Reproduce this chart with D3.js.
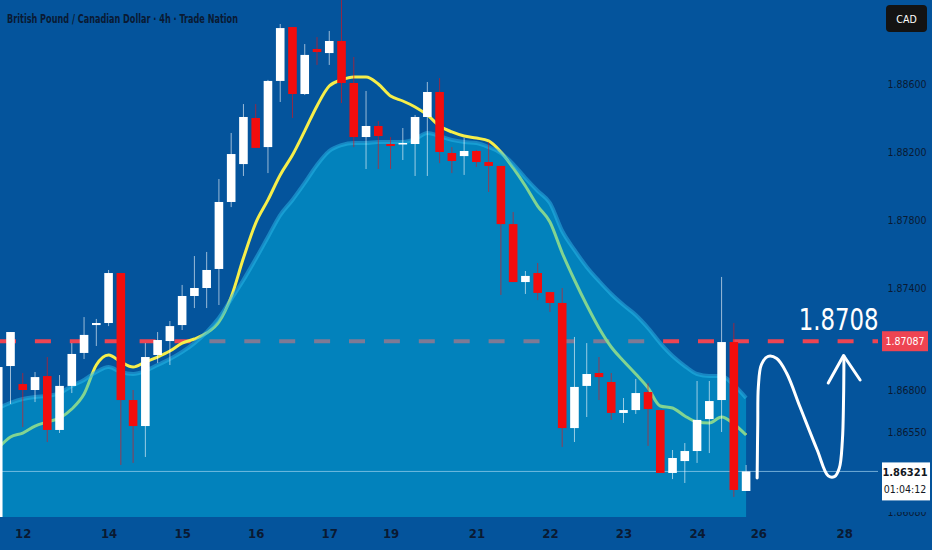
<!DOCTYPE html>
<html>
<head>
<meta charset="utf-8">
<script src="https://cdn.jsdelivr.net/npm/d3@7"></script>
<style>
  html, body { margin: 0; padding: 0; background: #04549c; }
  svg { display: block; }
</style>
</head>
<body>
<svg id="chart" width="932" height="550"></svg>
<script>
// GBP/CAD 4h candles, bar index 0..61
const opens = [1.86000,1.86941,1.86835,1.86800,1.86882,1.86565,1.86824,1.87018,1.87182,1.87194,
  1.87488,1.86741,1.86588,1.87006,1.87088,1.87182,1.87353,1.87400,1.87512,1.87906,
  1.88129,1.88400,1.88229,1.88618,1.88935,1.88541,1.88806,1.88782,1.88853,1.88606,
  1.88288,1.88353,1.88247,1.88247,1.88247,1.88406,1.88553,1.88194,1.88176,1.88206,
  1.88141,1.88118,1.87776,1.87435,1.87488,1.87376,1.87312,1.86576,1.86824,1.86900,
  1.86847,1.86665,1.86682,1.86788,1.86682,1.86312,1.86382,1.86441,1.86629,1.86741,
  1.87082,1.86206];
const highs = [1.86950,1.87141,1.86900,1.86906,1.86994,1.86888,1.87076,1.87229,1.87218,1.87506,
  1.87488,1.86800,1.87076,1.87141,1.87206,1.87418,1.87588,1.87612,1.88041,1.88312,
  1.88482,1.88482,1.88624,1.88953,1.88935,1.88835,1.88876,1.88912,1.89094,1.88759,
  1.88559,1.88382,1.88288,1.88341,1.88418,1.88612,1.88635,1.88229,1.88282,1.88212,
  1.88259,1.88118,1.87847,1.87500,1.87547,1.87376,1.87400,1.87112,1.87076,1.86994,
  1.86900,1.86753,1.86865,1.86841,1.86682,1.86447,1.86488,1.86853,1.86853,1.87465,
  1.87194,1.86359];
const lows = [1.85970,1.86718,1.86582,1.86729,1.86494,1.86547,1.86782,1.86982,1.87059,1.87176,
  1.86359,1.86371,1.86406,1.86959,1.86947,1.87153,1.87282,1.87282,1.87300,1.87876,
  1.88059,1.88224,1.88076,1.88494,1.88400,1.88535,1.88712,1.88712,1.88488,1.88229,
  1.88100,1.88100,1.88100,1.88153,1.88059,1.88059,1.88135,1.88076,1.88065,1.88112,
  1.87965,1.87359,1.87435,1.87365,1.87329,1.87259,1.86465,1.86494,1.86641,1.86741,
  1.86624,1.86606,1.86659,1.86471,1.86312,1.86276,1.86253,1.86371,1.86429,1.86553,
  1.86171,1.86206];
const closes = [1.86935,1.87141,1.86800,1.86876,1.86565,1.86824,1.87012,1.87124,1.87194,1.87488,
  1.86741,1.86588,1.86994,1.87094,1.87176,1.87353,1.87400,1.87506,1.87906,1.88188,
  1.88406,1.88224,1.88618,1.88929,1.88541,1.88771,1.88788,1.88853,1.88606,1.88288,
  1.88353,1.88294,1.88235,1.88253,1.88406,1.88553,1.88200,1.88147,1.88206,1.88141,
  1.88118,1.87776,1.87435,1.87471,1.87371,1.87312,1.86576,1.86818,1.86894,1.86876,
  1.86665,1.86682,1.86782,1.86688,1.86312,1.86400,1.86441,1.86624,1.86735,1.87082,
  1.86212,1.86321];

// fast moving average (yellow line)
const maFast = [1.86459,1.86524,1.86547,1.86588,1.86612,1.86635,1.86688,1.86776,1.86947,1.87006,
  1.86965,1.86935,1.86965,1.86994,1.87029,1.87076,1.87100,1.87135,1.87200,1.87347,
  1.87576,1.87782,1.87918,1.88065,1.88182,1.88324,1.88471,1.88588,1.88624,1.88641,
  1.88641,1.88600,1.88529,1.88500,1.88465,1.88418,1.88353,1.88318,1.88294,1.88282,
  1.88265,1.88200,1.88106,1.88000,1.87882,1.87788,1.87606,1.87447,1.87300,1.87165,
  1.87053,1.86971,1.86894,1.86812,1.86706,1.86694,1.86647,1.86612,1.86606,1.86641,
  1.86600,1.86535];
// slow average (filled area)
const maSlow = [1.86694,1.86724,1.86747,1.86759,1.86765,1.86782,1.86824,1.86859,1.86906,1.86935,
  1.86906,1.86894,1.86912,1.86947,1.86982,1.87024,1.87076,1.87141,1.87224,1.87335,
  1.87447,1.87571,1.87700,1.87829,1.87918,1.88018,1.88124,1.88206,1.88241,1.88253,
  1.88253,1.88259,1.88259,1.88259,1.88276,1.88312,1.88294,1.88271,1.88259,1.88253,
  1.88229,1.88194,1.88129,1.88047,1.87971,1.87900,1.87735,1.87624,1.87524,1.87441,
  1.87365,1.87300,1.87241,1.87165,1.87076,1.87000,1.86941,1.86894,1.86882,1.86882,
  1.86829,1.86753];

const dayTicks = [2, 9, 15, 21, 27, 32, 39, 45, 51, 57, 62, 69];
const dayLabels = ["12", "14", "15", "16", "17", "19", "21", "22", "23", "24", "26", "28"];
const priceTicks = [1.886, 1.882, 1.878, 1.874, 1.868, 1.8655, 1.8608];

const levelPrice = 1.87087;
const levelNote = "1.8708";
const lastPrice = 1.86321;
const countdown = "01:04:12";
const title = "British Pound / Canadian Dollar · 4h · Trade Nation";

// hand-drawn projection path, [bar index, price]
const scribble = [[61.9,1.86282],[61.95,1.86600],[62.0,1.86820],[62.25,1.86950],[62.8,1.86998],
  [63.5,1.86985],[64.3,1.86900],[65.4,1.86700],[66.8,1.86447],[67.7,1.86295],[68.2,1.86290],
  [68.6,1.86340],[68.85,1.86500],[68.95,1.86750],[68.98,1.87000]];
const arrowHead = [[67.7,1.86841],[68.95,1.87003],[70.3,1.86859]];

const W = 932, H = 550;
const plotRight = 878, plotBottom = 517;
const ink = "#0a1a33";
const labelFont = "'Liberation Sans Narrow', 'DejaVu Sans Condensed', 'Roboto Condensed', Roboto, sans-serif";

const svg = d3.select("#chart");
const x = d3.scaleLinear().domain([0, 61]).range([-1.76, 746.1]);
const y = d3.scaleLinear().domain([1.874, 1.886]).range([288, 84]);
const bw = 8.6;

svg.append("rect").attr("width", W).attr("height", H).attr("fill", "#04549c");

const defs = svg.append("defs");
defs.append("clipPath").attr("id", "plot")
  .append("rect").attr("width", plotRight).attr("height", plotBottom);
// the lowest price label is half hidden under the time scale edge
defs.append("clipPath").attr("id", "lowcut")
  .append("rect").attr("x", -30).attr("y", -1).attr("width", 60).attr("height", 20);

const g = svg.append("g").attr("clip-path", "url(#plot)");

// level line (drawn under the area so it tints inside it)
g.append("line")
  .attr("x1", 0).attr("x2", plotRight + 4)
  .attr("y1", y(levelPrice)).attr("y2", y(levelPrice))
  .attr("stroke", "#ee4452").attr("stroke-width", 4)
  .attr("stroke-dasharray", "16 18.9");

const idx = d3.range(closes.length);

g.append("path")
  .datum(idx)
  .attr("fill", "none")
  .attr("stroke", "#f6ee4a")
  .attr("stroke-width", 3)
  .attr("d", d3.line().x(i => x(i)).y(i => y(maFast[i])).curve(d3.curveMonotoneX));

g.append("path")
  .datum(idx)
  .attr("fill", "#00b6e2")
  .attr("fill-opacity", 0.47)
  .attr("d", d3.area().x(i => x(i)).y0(plotBottom).y1(i => y(maSlow[i])).curve(d3.curveMonotoneX));

g.append("path")
  .datum(idx)
  .attr("fill", "none")
  .attr("stroke", "#2cbaea")
  .attr("stroke-opacity", 0.5)
  .attr("stroke-width", 4)
  .attr("d", d3.line().x(i => x(i)).y(i => y(maSlow[i])).curve(d3.curveMonotoneX));

// last price line
g.append("line")
  .attr("x1", 0).attr("x2", plotRight + 6)
  .attr("y1", y(lastPrice)).attr("y2", y(lastPrice))
  .attr("stroke", "#9fd2f0").attr("stroke-opacity", 0.7).attr("stroke-width", 1);

// candles
const color = i => closes[i] >= opens[i] ? "#ffffff" : "#f20d0d";

g.append("g").selectAll("line")
  .data(idx)
  .join("line")
    .attr("x1", i => x(i)).attr("x2", i => x(i))
    .attr("y1", i => y(highs[i])).attr("y2", i => y(lows[i]))
    .attr("stroke", color)
    .attr("stroke-opacity", 0.6)
    .attr("stroke-width", 1);

g.append("g").selectAll("rect")
  .data(idx)
  .join("rect")
    .attr("x", i => x(i) - bw / 2)
    .attr("width", bw)
    .attr("y", i => y(Math.max(opens[i], closes[i])))
    .attr("height", i => Math.max(1.5, Math.abs(y(opens[i]) - y(closes[i]))))
    .attr("fill", color);

// annotation
svg.append("path")
  .datum(scribble)
  .attr("fill", "none").attr("stroke", "#ffffff").attr("stroke-width", 3)
  .attr("stroke-linecap", "round").attr("stroke-linejoin", "round")
  .attr("d", d3.line().x(d => x(d[0])).y(d => y(d[1])).curve(d3.curveCatmullRom));

svg.append("path")
  .datum(arrowHead)
  .attr("fill", "none").attr("stroke", "#ffffff").attr("stroke-width", 3)
  .attr("stroke-linecap", "round").attr("stroke-linejoin", "round")
  .attr("d", d3.line().x(d => x(d[0])).y(d => y(d[1])));

svg.append("text")
  .attr("x", x(68.55)).attr("y", y(1.87153))
  .attr("text-anchor", "middle")
  .attr("font-family", labelFont)
  .attr("font-size", 31)
  .attr("fill", "#ffffff")
  .attr("textLength", 80).attr("lengthAdjust", "spacingAndGlyphs")
  .text(levelNote);

// title
svg.append("text")
  .attr("x", 7).attr("y", 23)
  .attr("font-family", labelFont)
  .attr("font-size", 12.5)
  .attr("font-weight", "bold")
  .attr("fill", ink)
  .attr("textLength", 231).attr("lengthAdjust", "spacingAndGlyphs")
  .text(title);

// axes
const xAxis = svg.append("g")
  .attr("transform", `translate(0,${plotBottom})`)
  .call(d3.axisBottom(x).tickValues(dayTicks).tickFormat((d, i) => dayLabels[i]).tickSize(0).tickPadding(12));
xAxis.select(".domain").remove();
xAxis.selectAll("text")
  .attr("font-family", labelFont).attr("font-size", 13).attr("font-weight", "bold").attr("fill", ink);

const yAxis = svg.append("g")
  .attr("transform", "translate(907,0)")
  .call(d3.axisRight(y).tickValues(priceTicks).tickFormat(d3.format(".5f")).tickSize(0));
yAxis.select(".domain").remove();
yAxis.selectAll("text")
  .attr("x", 0).attr("text-anchor", "middle")
  .attr("font-family", labelFont).attr("font-size", 10.5).attr("fill", ink);
yAxis.selectAll(".tick").filter(d => d === d3.min(priceTicks))
  .attr("clip-path", "url(#lowcut)");

// currency badge
svg.append("rect").attr("x", 886).attr("y", 5).attr("width", 41).attr("height", 27)
  .attr("rx", 4).attr("fill", "#131313");
svg.append("text").attr("x", 906.5).attr("y", 22.5).attr("text-anchor", "middle")
  .attr("font-family", labelFont).attr("font-size", 10.5).attr("fill", "#ffffff").text("CAD");

// level label
svg.append("rect").attr("x", 882).attr("y", y(levelPrice) - 10).attr("width", 46).attr("height", 20)
  .attr("fill", "#ee4452");
svg.append("text").attr("x", 905).attr("y", y(levelPrice) + 4).attr("text-anchor", "middle")
  .attr("font-family", labelFont).attr("font-size", 10.5).attr("fill", "#ffffff")
  .text(levelPrice.toFixed(5));

// last price label with countdown
svg.append("rect").attr("x", 882).attr("y", y(lastPrice) - 9).attr("width", 48).attr("height", 38)
  .attr("fill", "#ffffff");
svg.append("text").attr("x", 905).attr("y", y(lastPrice) + 4.5).attr("text-anchor", "middle")
  .attr("font-family", labelFont).attr("font-size", 11).attr("font-weight", "bold").attr("fill", "#131722")
  .text(lastPrice.toFixed(5));
svg.append("text").attr("x", 905).attr("y", y(lastPrice) + 21.5).attr("text-anchor", "middle")
  .attr("font-family", labelFont).attr("font-size", 10.5).attr("fill", "#131722")
  .text(countdown);
</script>
</body>
</html>
